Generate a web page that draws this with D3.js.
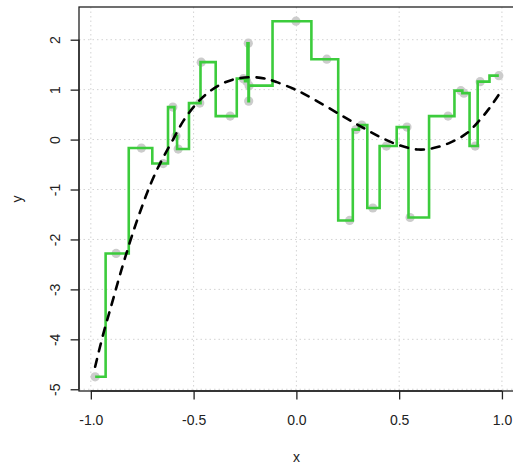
<!DOCTYPE html>
<html><head><meta charset="utf-8">
<script src="https://cdn.jsdelivr.net/npm/d3@7"></script>
<style>body{margin:0;background:#fff}svg{display:block}text{font-family:"Liberation Sans",Arial,Helvetica,sans-serif;fill:#222}</style>
</head><body><svg id="c" width="513" height="466"></svg>
<script>
// observed points (gray) and green step line
const pointX = [-0.979,-0.877,-0.754,-0.648,-0.601,-0.586,-0.575,-0.470,-0.463,-0.322,-0.258,-0.242,-0.234,-0.232,-0.230,-0.002,0.148,0.259,0.290,0.318,0.372,0.438,0.538,0.553,0.738,0.800,0.815,0.870,0.894,0.985];
const pointY = [-4.75,-2.28,-0.17,-0.48,0.65,0.07,-0.19,0.73,1.55,0.47,1.22,1.17,1.93,0.77,1.08,2.37,1.61,-1.62,0.20,0.29,-1.37,-0.13,0.25,-1.56,0.47,0.98,0.93,-0.13,1.16,1.28];
// dashed smooth curve
const curveX = [-0.979,-0.94,-0.90,-0.866,-0.833,-0.79,-0.75,-0.72,-0.68,-0.647,-0.60,-0.549,-0.484,-0.42,-0.35,-0.29,-0.22,-0.15,-0.095,0.0,0.1,0.213,0.31,0.408,0.505,0.594,0.667,0.748,0.83,0.894,0.943,0.988];
const curveY = [-4.55,-3.9,-3.32,-2.82,-2.36,-1.8,-1.33,-1.0,-0.62,-0.35,0.0,0.38,0.73,0.97,1.14,1.22,1.25,1.22,1.15,0.99,0.77,0.5,0.27,0.05,-0.12,-0.2,-0.17,-0.06,0.13,0.4,0.65,0.92];
const xTicks = [-1.0,-0.5,0.0,0.5,1.0];
const xTickLabels = ["-1.0","-0.5","0.0","0.5","1.0"];
const yTicks = [-5,-4,-3,-2,-1,0,1,2];
const yTickLabels = ["-5","-4","-3","-2","-1","0","1","2"];
const xLabel = "x", yLabel = "y";

const svg = d3.select("#c");
const L = 79, R = 515, T = 7, B = 391;
function padExt(a){const e=d3.extent(a),r=e[1]-e[0];return [e[0]-0.04*r,e[1]+0.04*r];}
const x = d3.scaleLinear().domain(padExt(pointX)).range([L,R]);
const y = d3.scaleLinear().domain(padExt(pointY)).range([B,T]);

// grid
const g = svg.append("g");
g.selectAll(".gx").data(xTicks).join("line")
  .attr("x1",d=>x(d)).attr("x2",d=>x(d)).attr("y1",T).attr("y2",B)
  .attr("stroke","#d3d3d3").attr("stroke-width",1).attr("stroke-dasharray","1.5,3");
g.selectAll(".gy").data(yTicks).join("line")
  .attr("y1",d=>y(d)).attr("y2",d=>y(d)).attr("x1",L).attr("x2",R)
  .attr("stroke","#d3d3d3").attr("stroke-width",1).attr("stroke-dasharray","1.5,3");

// points
const pts = pointX.map((v,i)=>[v,pointY[i]]);
svg.append("g").selectAll("circle").data(pts).join("circle")
  .attr("cx",d=>x(d[0])).attr("cy",d=>y(d[1])).attr("r",4.6).attr("fill","#cccccc");

// step line
svg.append("path").datum(pts)
  .attr("d",d3.line().x(d=>x(d[0])).y(d=>y(d[1])).curve(d3.curveStep))
  .attr("fill","none").attr("stroke","#3ccc3c").attr("stroke-width",2.6);

// dashed curve
const cpts = curveX.map((v,i)=>[v,curveY[i]]);
svg.append("path").datum(cpts)
  .attr("d",d3.line().x(d=>x(d[0])).y(d=>y(d[1])).curve(d3.curveCatmullRom))
  .attr("fill","none").attr("stroke","#000").attr("stroke-width",2.6)
  .attr("stroke-dasharray","8,8").attr("stroke-linecap","round");

// box
svg.append("rect").attr("x",L).attr("y",T).attr("width",R-L).attr("height",B-T)
  .attr("fill","none").attr("stroke","#222").attr("stroke-width",1.3);

// axes
const xa = d3.axisBottom(x).tickValues(xTicks).tickFormat((d,i)=>xTickLabels[i]).tickSize(8.4).tickSizeOuter(0);
const xg = svg.append("g").attr("transform",`translate(0,${B})`).call(xa);
xg.select(".domain").attr("d",`M${x(xTicks[0])},0H${x(xTicks[xTicks.length-1])}`).attr("stroke","#222").attr("stroke-width",1.3);
xg.selectAll(".tick line").attr("stroke","#222").attr("stroke-width",1.3);
xg.selectAll(".tick text").attr("y",null).attr("dy",null).attr("transform","translate(0,34)")
  .style("font-size","14px").attr("fill","#222").attr("font-family",null);

const ya = d3.axisLeft(y).tickValues(yTicks).tickFormat((d,i)=>yTickLabels[i]).tickSize(8.4).tickSizeOuter(0);
const yg = svg.append("g").attr("transform",`translate(${L},0)`).call(ya);
yg.select(".domain").attr("d",`M0,${y(yTicks[0])}V${y(yTicks[yTicks.length-1])}`).attr("stroke","#222").attr("stroke-width",1.3);
yg.selectAll(".tick line").attr("stroke","#222").attr("stroke-width",1.3);
yg.selectAll(".tick text").attr("x",null).attr("dy",null).attr("text-anchor","middle")
  .attr("transform","translate(-19,0) rotate(-90)").style("font-size","14px").attr("fill","#222").attr("font-family",null);

svg.append("text").attr("x",(x(-1)+x(1))/2).attr("y",461.5).attr("text-anchor","middle").style("font-size","14px").text(xLabel);
svg.append("text").attr("transform",`translate(21.5,${(T+B)/2}) rotate(-90)`).attr("text-anchor","middle").style("font-size","14px").text(yLabel);
</script></body></html>
